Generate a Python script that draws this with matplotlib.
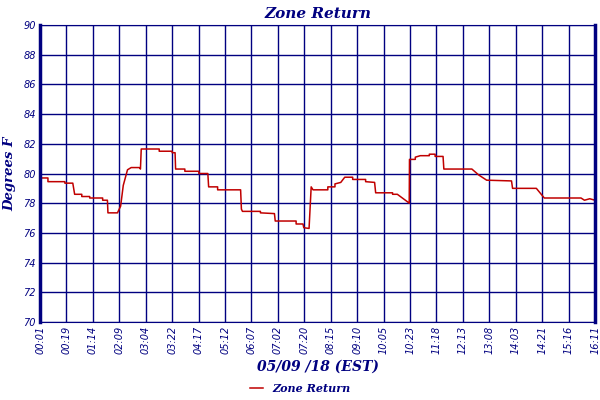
import matplotlib.pyplot as plt

# x in tick-interval units (0 = 00:01 ... 21 = 16:11), y in degrees F
tick_labels = ["00:01", "00:19", "01:14", "02:09", "03:04", "03:22", "04:17", "05:12",
               "06:07", "07:02", "07:20", "08:15", "09:10", "10:05", "10:23", "11:18",
               "12:13", "13:08", "14:03", "14:21", "15:16", "16:11"]
xs = [0, 0.30, 0.30, 0.94, 0.94, 1.24, 1.31, 1.58, 1.58, 1.88, 1.88, 2.37, 2.37, 2.55, 2.57,
      2.93, 3.05, 3.15, 3.31, 3.45, 3.76, 3.80, 3.83, 4.51, 4.51, 5.0, 5.0, 5.11, 5.13, 5.48,
      5.48, 6.01, 6.01, 6.35, 6.38, 6.72, 6.72, 7.59, 7.62, 7.66, 8.34, 8.34, 8.87, 8.90, 9.69,
      9.69, 9.95, 9.98, 10.18, 10.26, 10.33, 10.89, 10.89, 11.16, 11.16, 11.38, 11.53, 11.83,
      11.83, 12.32, 12.32, 12.66, 12.70, 13.34, 13.34, 13.52, 13.90, 13.97, 13.98, 14.20, 14.20,
      14.39, 14.73, 14.73, 14.95, 14.95, 15.25, 15.28, 16.34, 16.6, 16.9, 17.84, 17.88, 18.78,
      19.08, 20.47, 20.6, 20.8, 21]
temps = [79.7, 79.7, 79.45, 79.45, 79.35, 79.35, 78.6, 78.6, 78.45, 78.45, 78.35, 78.35, 78.2,
         78.2, 77.35, 77.35, 77.8, 79.2, 80.25, 80.4, 80.4, 80.3, 81.65, 81.65, 81.5, 81.5, 81.4,
         81.4, 80.3, 80.3, 80.15, 80.15, 80.0, 80.0, 79.1, 79.1, 78.9, 78.9, 77.6, 77.45, 77.45,
         77.35, 77.3, 76.8, 76.8, 76.6, 76.6, 76.35, 76.3, 79.1, 78.9, 78.9, 79.1, 79.1, 79.3,
         79.4, 79.75, 79.75, 79.6, 79.6, 79.45, 79.4, 78.7, 78.7, 78.6, 78.6, 78.1, 78.0, 80.95,
         80.95, 81.1, 81.2, 81.2, 81.3, 81.3, 81.15, 81.15, 80.3, 80.3, 79.9, 79.55, 79.5, 79.0,
         79.0, 78.35, 78.35, 78.2, 78.3, 78.2]

navy = "#000080"
fig = plt.figure(figsize=(6, 4), dpi=100)
ax = fig.add_axes([0.0667, 0.195, 0.925, 0.7425])
ax.plot(xs, temps, color="#c00000", lw=1.1, label="Zone Return")
ax.set_xlim(0, 21)
ax.set_ylim(70, 90)
ax.set_xticks(range(22))
ax.set_xticklabels(tick_labels, rotation=90, fontsize=7, color=navy, style="italic")
ax.set_yticks(range(70, 91, 2))
ax.set_yticklabels([str(v) for v in range(70, 91, 2)], fontsize=7, color=navy, style="italic")
ax.grid(True, color=navy, lw=1)
ax.tick_params(length=0, pad=3)
for s in ax.spines.values():
    s.set_color(navy)
ax.spines["left"].set_linewidth(2.5)
ax.spines["right"].set_linewidth(2.5)

font = dict(family="DejaVu Serif", style="italic", weight="bold", color=navy)
ax.set_title("Zone Return", fontsize=11, pad=5, **font)
ax.set_xlabel("05/09 /18 (EST)", fontsize=10, labelpad=4, **font)
ax.set_ylabel("Degrees F", fontsize=9.5, labelpad=5, **font)
leg = fig.legend(loc="lower center", bbox_to_anchor=(0.5, -0.01), frameon=False,
                 handlelength=1.2, prop=dict(family="DejaVu Serif", style="italic",
                                             weight="bold", size=8))
for t in leg.get_texts():
    t.set_color(navy)
fig.savefig("out.png")
